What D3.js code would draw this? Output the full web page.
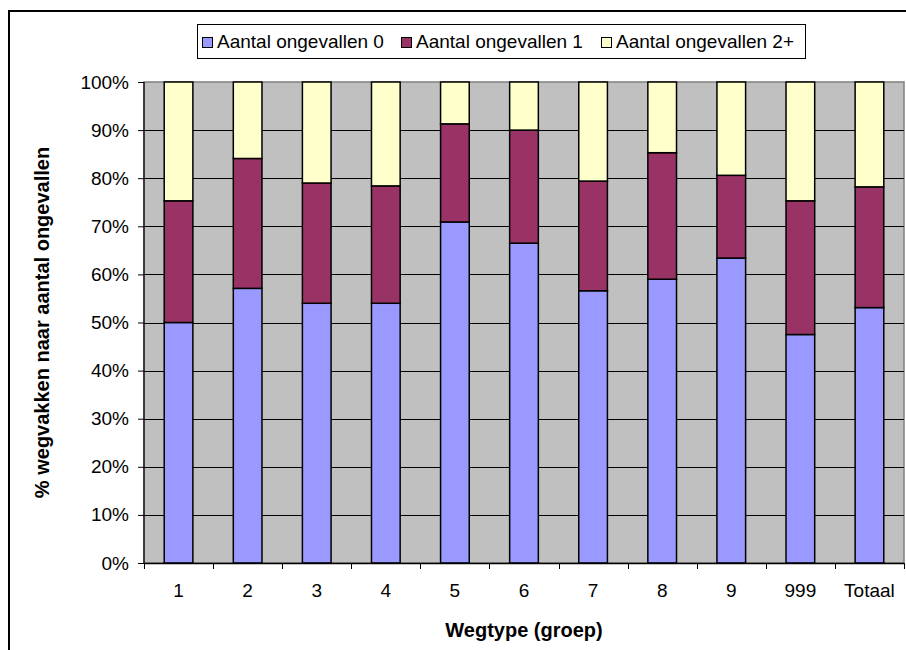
<!DOCTYPE html>
<html>
<head>
<meta charset="utf-8">
<script src="https://cdn.jsdelivr.net/npm/d3@7/dist/d3.min.js"></script>
<style>
  body { margin: 0; background: #fff; }
  svg { display: block; font-family: "Liberation Sans", Arial, sans-serif; }
</style>
</head>
<body>
<svg id="chart" width="906" height="650"></svg>
<script>
const categories = ["1", "2", "3", "4", "5", "6", "7", "8", "9", "999", "Totaal"];
const seriesNames = ["Aantal ongevallen 0", "Aantal ongevallen 1", "Aantal ongevallen 2+"];
const ongevallen0 = [50.0, 57.1, 54.0, 54.0, 70.9, 66.5, 56.6, 59.0, 63.4, 47.5, 53.1];
const ongevallen1 = [25.3, 27.0, 25.0, 24.4, 20.4, 23.5, 22.8, 26.3, 17.2, 27.8, 25.1];
const ongevallen2 = categories.map((c, i) => 100 - ongevallen0[i] - ongevallen1[i]);
const yTicks = [0, 10, 20, 30, 40, 50, 60, 70, 80, 90, 100];
const colors = ["#9999FF", "#993366", "#FFFFCC"];

const FONT = "Liberation Sans, Arial, sans-serif";
const svg = d3.select("#chart");

// outer chart border (only left/top visible in frame)
svg.append("rect").attr("x", 9).attr("y", 11).attr("width", 1000).attr("height", 1000)
  .attr("fill", "none").attr("stroke", "#000").attr("stroke-width", 2);

const plot = { left: 144, right: 904, top: 82, bottom: 563 };
const x = d3.scaleBand().domain(categories).range([plot.left, plot.right]).paddingInner(0.585).paddingOuter(0.2925);
const y = d3.scaleLinear().domain([0, 100]).range([plot.bottom, plot.top]);

// plot background
svg.append("rect").attr("x", plot.left).attr("y", plot.top)
  .attr("width", plot.right - plot.left).attr("height", plot.bottom - plot.top)
  .attr("fill", "#C0C0C0").attr("stroke", "#808080").attr("stroke-width", 1.5);

// gridlines
svg.append("g").selectAll("line").data(yTicks.filter(t => t > 0 && t < 100)).join("line")
  .attr("x1", plot.left).attr("x2", plot.right)
  .attr("y1", d => Math.round(y(d)) + 0.5).attr("y2", d => Math.round(y(d)) + 0.5)
  .attr("stroke", "#000").attr("stroke-width", 1);

// stacked data
const rows = categories.map((c, i) => ({ cat: c, s0: ongevallen0[i], s1: ongevallen1[i], s2: ongevallen2[i] }));
const stack = d3.stack().keys(["s0", "s1", "s2"])(rows);

svg.append("g").selectAll("g").data(stack).join("g")
  .attr("fill", (d, i) => colors[i])
  .selectAll("rect").data(d => d).join("rect")
  .attr("x", d => x(d.data.cat))
  .attr("width", x.bandwidth())
  .attr("y", d => y(d[1]))
  .attr("height", d => y(d[0]) - y(d[1]))
  .attr("stroke", "#000").attr("stroke-width", 1.5);

// y axis
const yAxis = d3.axisLeft(y).tickValues(yTicks).tickFormat(d => d + "%").tickSize(6).tickPadding(9);
const gy = svg.append("g").attr("transform", `translate(${plot.left},0)`).call(yAxis);
gy.attr("font-size", null).attr("font-family", null);
gy.select(".domain").attr("stroke", "#000").attr("stroke-width", 1.2).attr("d", `M0,${plot.top}V${plot.bottom}`);
gy.selectAll(".tick line").attr("stroke", "#000");
gy.selectAll("text").attr("font-size", 19).attr("fill", "#000").attr("font-family", FONT);

// x axis with ticks between categories
const boundaries = d3.range(categories.length + 1).map(i => plot.left + i * (plot.right - plot.left) / categories.length);
const gx = svg.append("g");
gx.append("line").attr("x1", plot.left).attr("x2", plot.right)
  .attr("y1", plot.bottom + 0.5).attr("y2", plot.bottom + 0.5).attr("stroke", "#000").attr("stroke-width", 1.5);
gx.selectAll("line.tk").data(boundaries).join("line").attr("class", "tk")
  .attr("x1", d => Math.round(d) + 0.5).attr("x2", d => Math.round(d) + 0.5)
  .attr("y1", plot.bottom).attr("y2", plot.bottom + 6).attr("stroke", "#000");
gx.selectAll("text").data(categories).join("text")
  .attr("x", d => x(d) + x.bandwidth() / 2).attr("y", 597)
  .attr("text-anchor", "middle").attr("font-size", 19).attr("fill", "#000")
  .text(d => d);

// axis titles
svg.append("text").attr("x", 524).attr("y", 637).attr("text-anchor", "middle")
  .attr("font-size", 20).attr("font-weight", "bold").text("Wegtype (groep)");
svg.append("text").attr("transform", `translate(49,${(plot.top + plot.bottom) / 2}) rotate(-90)`)
  .attr("text-anchor", "middle").attr("font-size", 20).attr("font-weight", "bold")
  .text("% wegvakken naar aantal ongevallen");

// legend
const lg = svg.append("g");
lg.append("rect").attr("x", 197.5).attr("y", 24.5).attr("width", 608).attr("height", 34)
  .attr("fill", "#fff").attr("stroke", "#000").attr("stroke-width", 1);
const legendX = [202, 401, 601];
seriesNames.forEach((n, i) => {
  lg.append("rect").attr("x", legendX[i] + 0.5).attr("y", 37.5).attr("width", 10).attr("height", 10)
    .attr("fill", colors[i]).attr("stroke", "#000").attr("stroke-width", 1);
  lg.append("text").attr("x", legendX[i] + 15).attr("y", 48).attr("font-size", 19).attr("fill", "#000").text(n);
});
</script>
</body>
</html>
